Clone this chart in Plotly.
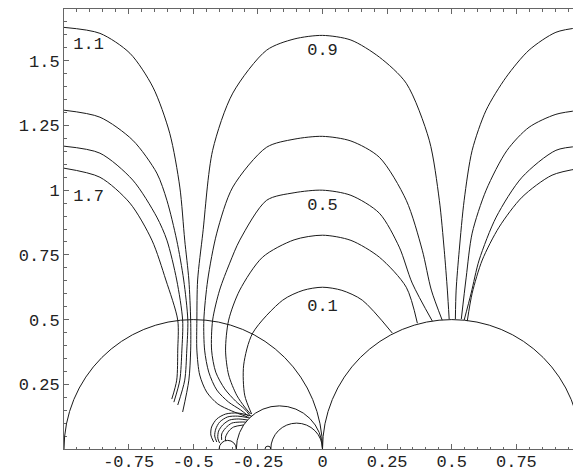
import plotly.graph_objects as go

# ---- contour curves (data coordinates) ----
L11_x = [-1.0, -0.861, -0.745, -0.656, -0.591, -0.552, -0.533, -0.517, -0.510, -0.510, -0.517, -0.541]
L11_y = [1.629, 1.606, 1.529, 1.398, 1.220, 1.012, 0.807, 0.653, 0.498, 0.382, 0.266, 0.143]
L13_x = [-1.0, -0.861, -0.734, -0.641, -0.602, -0.564, -0.537, -0.521, -0.525, -0.533, -0.560]
L13_y = [1.309, 1.282, 1.193, 1.066, 0.961, 0.807, 0.653, 0.498, 0.382, 0.266, 0.170]
L15_x = [-1.0, -0.861, -0.734, -0.641, -0.602, -0.564, -0.541, -0.544, -0.552, -0.575]
L15_y = [1.170, 1.143, 1.039, 0.896, 0.807, 0.653, 0.498, 0.382, 0.266, 0.181]
L17_x = [-1.0, -0.861, -0.745, -0.660, -0.606, -0.560, -0.560, -0.564, -0.583]
L17_y = [1.085, 1.050, 0.950, 0.807, 0.653, 0.498, 0.382, 0.266, 0.193]

R11_x = [1.0, 0.903, 0.799, 0.710, 0.633, 0.579, 0.548, 0.529, 0.517, 0.514]
R11_y = [1.629, 1.610, 1.541, 1.436, 1.309, 1.154, 0.961, 0.768, 0.614, 0.502]
R13_x = [1.0, 0.903, 0.799, 0.714, 0.633, 0.579, 0.556, 0.537]
R13_y = [1.309, 1.293, 1.243, 1.154, 1.0, 0.834, 0.664, 0.502]
R15_x = [1.0, 0.903, 0.772, 0.672, 0.606, 0.575, 0.548]
R15_y = [1.170, 1.154, 1.050, 0.896, 0.730, 0.602, 0.498]
R17_x = [1.0, 0.888, 0.772, 0.683, 0.618, 0.579, 0.560]
R17_y = [1.085, 1.058, 0.973, 0.857, 0.730, 0.602, 0.494]

A09_x = [-0.290, -0.351, -0.405, -0.448, -0.475, -0.486, -0.486, -0.483, -0.463, -0.425, -0.347, -0.216, -0.110, 0.0,
         0.110, 0.220, 0.324, 0.413, 0.452, 0.471, 0.483, 0.490]
A09_y = [0.124, 0.147, 0.174, 0.220, 0.286, 0.382, 0.498, 0.653, 0.834, 1.154, 1.375, 1.541, 1.584, 1.598,
         1.580, 1.514, 1.413, 1.193, 0.961, 0.768, 0.614, 0.502]
A07_x = [-0.286, -0.317, -0.363, -0.409, -0.440, -0.456, -0.459, -0.444, -0.409, -0.347, -0.216, -0.110, 0.0,
         0.110, 0.220, 0.324, 0.386, 0.421, 0.463]
A07_y = [0.127, 0.151, 0.181, 0.228, 0.297, 0.382, 0.498, 0.653, 0.834, 1.012, 1.166, 1.197, 1.208,
         1.190, 1.127, 0.961, 0.768, 0.614, 0.498]
A05_x = [-0.282, -0.301, -0.336, -0.378, -0.413, -0.429, -0.425, -0.398, -0.359, -0.320, -0.216, -0.110, 0.0,
         0.110, 0.220, 0.297, 0.347, 0.425]
A05_y = [0.131, 0.154, 0.185, 0.232, 0.297, 0.382, 0.498, 0.614, 0.718, 0.807, 0.961, 0.990, 1.0,
         0.980, 0.911, 0.780, 0.641, 0.494]
A03_x = [-0.278, -0.301, -0.332, -0.363, -0.375, -0.363, -0.320, -0.232, -0.110, 0.0, 0.110, 0.220, 0.324, 0.367]
A03_y = [0.135, 0.162, 0.208, 0.286, 0.382, 0.498, 0.614, 0.741, 0.808, 0.826, 0.806, 0.741, 0.625, 0.486]
A01_x = [-0.274, -0.301, -0.305, -0.270, -0.154, -0.075, 0.0, 0.075, 0.154, 0.270]
A01_y = [0.135, 0.208, 0.324, 0.448, 0.575, 0.613, 0.625, 0.613, 0.575, 0.448]

# small hooked contour pieces near the cusp at x = -1/3
H1_x = [-0.274, -0.328, -0.375, -0.409, -0.429, -0.432, -0.421]
H1_y = [0.127, 0.139, 0.135, 0.116, 0.085, 0.054, 0.027]
H2_x = [-0.282, -0.328, -0.367, -0.398, -0.413, -0.417, -0.409]
H2_y = [0.120, 0.127, 0.124, 0.104, 0.077, 0.050, 0.027]
H3_x = [-0.290, -0.324, -0.359, -0.386, -0.402, -0.405, -0.398]
H3_y = [0.112, 0.116, 0.112, 0.093, 0.069, 0.042, 0.023]
H4_x = [-0.297, -0.320, -0.351, -0.375, -0.390, -0.390]
H4_y = [0.104, 0.104, 0.100, 0.081, 0.058, 0.035]
H5_x = [-0.305, -0.344, -0.363, -0.375, -0.375]
H5_y = [0.093, 0.085, 0.069, 0.046, 0.031]

curves = [(L11_x, L11_y), (L13_x, L13_y), (L15_x, L15_y), (L17_x, L17_y),
          (R11_x, R11_y), (R13_x, R13_y), (R15_x, R15_y), (R17_x, R17_y),
          (A09_x, A09_y), (A07_x, A07_y), (A05_x, A05_y), (A03_x, A03_y), (A01_x, A01_y),
          (H1_x, H1_y), (H2_x, H2_y), (H3_x, H3_y), (H4_x, H4_y), (H5_x, H5_y)]

# semicircles: centre, radius
arc_centres = [-0.5, 0.5, -1/6, -0.1, -0.3667, -0.2111]
arc_radii = [0.5, 0.5, 1/6, 0.1, 0.0333, 0.0111]

label_text = ["1.1", "1.7", "0.9", "0.5", "0.1"]
label_x = [-0.905, -0.905, 0.0, 0.0, 0.0]
label_y = [1.56, 0.973, 1.537, 0.938, 0.548]

x_ticks = [-0.75, -0.5, -0.25, 0, 0.25, 0.5, 0.75, 1]
x_tick_text = ["-0.75", "-0.5", "-0.25", "0", "0.25", "0.5", "0.75", "1"]
y_ticks = [0.25, 0.5, 0.75, 1, 1.25, 1.5]
y_tick_text = ["0.25", "0.5", "0.75", "1", "1.25", "1.5"]

LINE = "#1a1a1a"
FONT = "Liberation Mono"

fig = go.Figure()
for cx, cy in curves:
    fig.add_trace(go.Scatter(x=cx, y=cy, mode="lines",
                             line=dict(color=LINE, width=1, shape="spline", smoothing=0.8),
                             hoverinfo="skip", showlegend=False))

for c, r in zip(arc_centres, arc_radii):
    fig.add_shape(type="circle", xref="x", yref="y", x0=c - r, x1=c + r, y0=-r, y1=r,
                  line=dict(color=LINE, width=1), layer="above")

fig.add_trace(go.Scatter(x=label_x, y=label_y, mode="text", text=label_text,
                         textfont=dict(family=FONT, size=17, color="#222"),
                         hoverinfo="skip", showlegend=False))

axis_common = dict(showgrid=False, zeroline=False, showline=True, linecolor="#666", linewidth=1,
                   mirror="ticks", ticks="inside", ticklen=5, tickcolor="#666", tickwidth=1,
                   automargin=False,
                   tickfont=dict(family=FONT, size=17, color="#222"),
                   minor=dict(dtick=0.05, ticks="inside", ticklen=2.5, tickcolor="#666", tickwidth=1))

fig.update_xaxes(range=[-1, 1], tickvals=x_ticks, ticktext=x_tick_text, ticklabelstandoff=-3, **axis_common)
fig.update_yaxes(range=[0, 1.7], tickvals=y_ticks, ticktext=y_tick_text, **axis_common)

# the page body keeps an 8 px margin, so the figure is sized to fit inside it
fig.update_layout(width=573, height=463, margin=dict(l=56, r=0, t=1, b=22, autoexpand=False),
                  paper_bgcolor="white", plot_bgcolor="white")

fig.write_html("out.html")
